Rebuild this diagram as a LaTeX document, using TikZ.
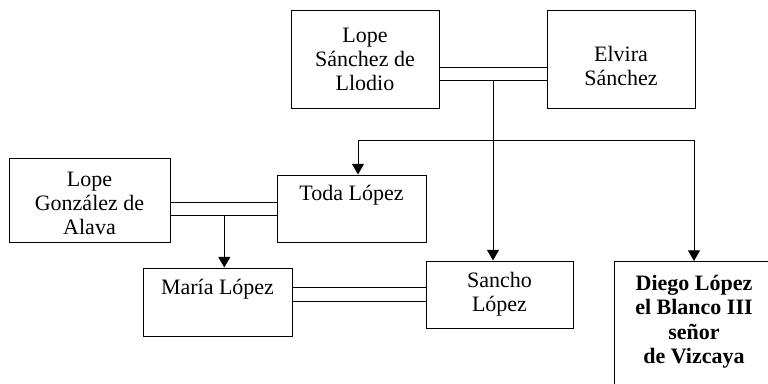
\documentclass[tikz,border=0pt]{standalone}
\usepackage{fontspec}
\setmainfont{Liberation Serif}
\usetikzlibrary{arrows.meta}

\tikzset{
  persona/.style={draw, line width=0.75pt, align=center, inner sep=0pt,
    font=\fontsize{16.5}{18}\selectfont},
  titular/.style={persona, font=\fontsize{16.5}{18.4}\selectfont\bfseries},
  enlace/.style={line width=0.75pt},
  hijo/.style={line width=0.75pt, -{Triangle[length=8pt,width=9pt]}},
}

\begin{document}
\begin{tikzpicture}[x=0.75pt, y=-0.75pt]
    \useasboundingbox (0,0) rectangle (768,383);
    \clip (0,0) rectangle (768,383);

    % Padres
    \node[persona, minimum width=111pt, minimum height=73.5pt] (lope) at (365,59)
    {Lope\\Sánchez de\\Llodio};
    \node[persona, minimum width=111pt, minimum height=73.5pt] (elvira) at (621,59)
    {\rule{0pt}{22pt}Elvira\\Sánchez};

    % Hijos
    \node[persona, minimum width=120.75pt, minimum height=63pt] (lopeg) at (89.5,200)
    {\rule{0pt}{16pt}Lope\\González de\\Alava};
    \node[persona, minimum width=111.75pt, minimum height=50.25pt] (toda) at (351.5,208.5)
    {Toda López\\\strut};
    \node[persona, minimum width=111.75pt, minimum height=51pt] (maria) at (217.5,302)
    {María López\\\strut};
    \node[persona, minimum width=110.25pt, minimum height=50.25pt] (sancho) at (499.5,294.5)
    {Sancho\\López};
    \node[titular, anchor=north, minimum width=120pt, minimum height=129pt] (diego) at (694,261)
    {Diego López\\el Blanco III\\señor\\de Vizcaya\\\strut\\\strut};

    % Matrimonios
    \draw[enlace] (lope.east |- 0,67.3) -- (elvira.west |- 0,67.3);
    \draw[enlace] (lope.east |- 0,80.7) -- (elvira.west |- 0,80.7);
    \draw[enlace] (lopeg.east |- 0,202.3) -- (toda.west |- 0,202.3);
    \draw[enlace] (lopeg.east |- 0,215.7) -- (toda.west |- 0,215.7);
    \draw[enlace] (maria.east |- 0,287.7) -- (sancho.west |- 0,287.7);
    \draw[enlace] (maria.east |- 0,301.7) -- (sancho.west |- 0,301.7);

    % Descendencia
    \coordinate (m1) at (493,80.7);
    \coordinate (h1) at (358,140);
    \coordinate (h2) at (diego.north |- h1);
    \draw[hijo] (m1) -- (sancho.north -| m1);
    \draw[enlace] (h1) -- (h2);
    \draw[hijo] (h1) -- (toda.north -| h1);
    \draw[hijo] (h2) -- (diego.north);
    \coordinate (m2) at (224.3,215.7);
    \draw[hijo] (m2) -- (maria.north -| m2);
\end{tikzpicture}
\end{document}
